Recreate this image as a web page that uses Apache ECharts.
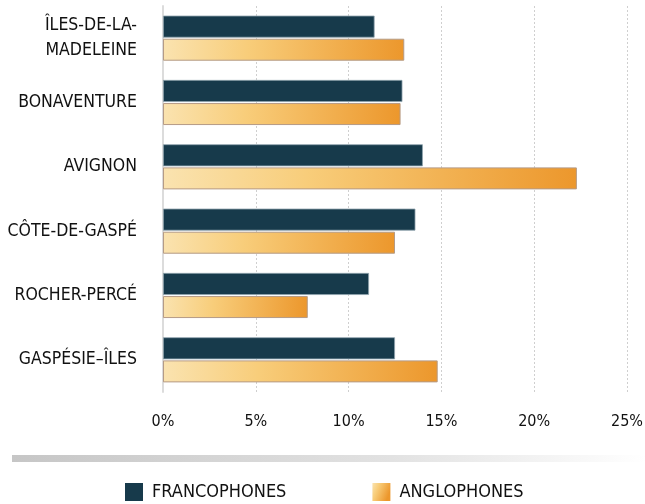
<!DOCTYPE html>
<html>
<head>
<meta charset="utf-8">
<script src="https://cdn.jsdelivr.net/npm/echarts@6/dist/echarts.min.js"></script>
<style>
  html, body { margin: 0; padding: 0; background: #fff; }
  #chart { width: 645px; height: 504px; }
</style>
</head>
<body>
<div id="chart"></div>
<script>
// régions (du haut vers le bas)
const regions = ['ÎLES-DE-LA-\nMADELEINE', 'BONAVENTURE', 'AVIGNON', 'CÔTE-DE-GASPÉ', 'ROCHER-PERCÉ', 'GASPÉSIE–ÎLES'];
const francophones = [11.4, 12.9, 14.0, 13.6, 11.1, 12.5];
const anglophones = [13.0, 12.8, 22.3, 12.5, 7.8, 14.8];
const xTicks = [0, 25, 5]; // min, max, interval

const FONT = '"DejaVu Sans Condensed", "Liberation Sans Narrow", sans-serif';

let myChart = echarts.init(document.getElementById('chart'));
const options = {
    animation: false,
    textStyle: { fontFamily: FONT },
    grid: { left: 163, right: 18, top: 6, bottom: 112, containLabel: false, outerBoundsMode: 'none' },
    legend: {
        top: 483,
        left: 125,
        padding: 0,
        itemWidth: 18,
        itemHeight: 18,
        itemGap: 86,
        icon: 'rect',
        itemStyle: { borderWidth: 0 },
        textStyle: { fontFamily: FONT, fontSize: 18, color: '#111', padding: [0, 0, 0, 4] },
        data: ['FRANCOPHONES', 'ANGLOPHONES']
    },
    xAxis: {
        type: 'value',
        min: xTicks[0],
        max: xTicks[1],
        interval: xTicks[2],
        axisLine: { show: false },
        axisTick: { show: false },
        axisLabel: { formatter: '{value}%', fontFamily: FONT, fontSize: 16, color: '#111', margin: 22 },
        splitLine: { show: true, lineStyle: { color: '#cfcfcf', type: [2, 2], width: 1 } }
    },
    yAxis: {
        type: 'category',
        inverse: true,
        data: regions,
        axisLine: { show: true, lineStyle: { color: '#dcdcdc', width: 2 } },
        axisTick: { show: false },
        axisLabel: { fontFamily: FONT, fontSize: 17.5, color: '#111', margin: 26, lineHeight: 25, align: 'right' }
    },
    graphic: [
        {
            type: 'rect',
            left: 12,
            top: 455,
            shape: { width: 633, height: 7 },
            style: {
                fill: new echarts.graphic.LinearGradient(0, 0, 1, 0, [
                    { offset: 0, color: '#c6c6c6' },
                    { offset: 0.6, color: '#e2e2e2' },
                    { offset: 1, color: '#ffffff' }
                ])
            }
        }
    ],
    series: [
        {
            name: 'FRANCOPHONES',
            type: 'bar',
            data: francophones,
            barWidth: 22,
            barGap: '5%',
            itemStyle: { color: '#173a4b', borderColor: '#8fa3ad', borderWidth: 0.8 }
        },
        {
            name: 'ANGLOPHONES',
            type: 'bar',
            data: anglophones,
            barWidth: 22,
            itemStyle: {
                color: new echarts.graphic.LinearGradient(0, 0, 1, 0.4, [
                    { offset: 0, color: '#fae3b0' },
                    { offset: 0.35, color: '#f8cd7a' },
                    { offset: 1, color: '#ec972c' }
                ]),
                borderColor: '#b59b86',
                borderWidth: 1
            }
        }
    ]
};
myChart.setOption(options);
</script>
</body>
</html>
